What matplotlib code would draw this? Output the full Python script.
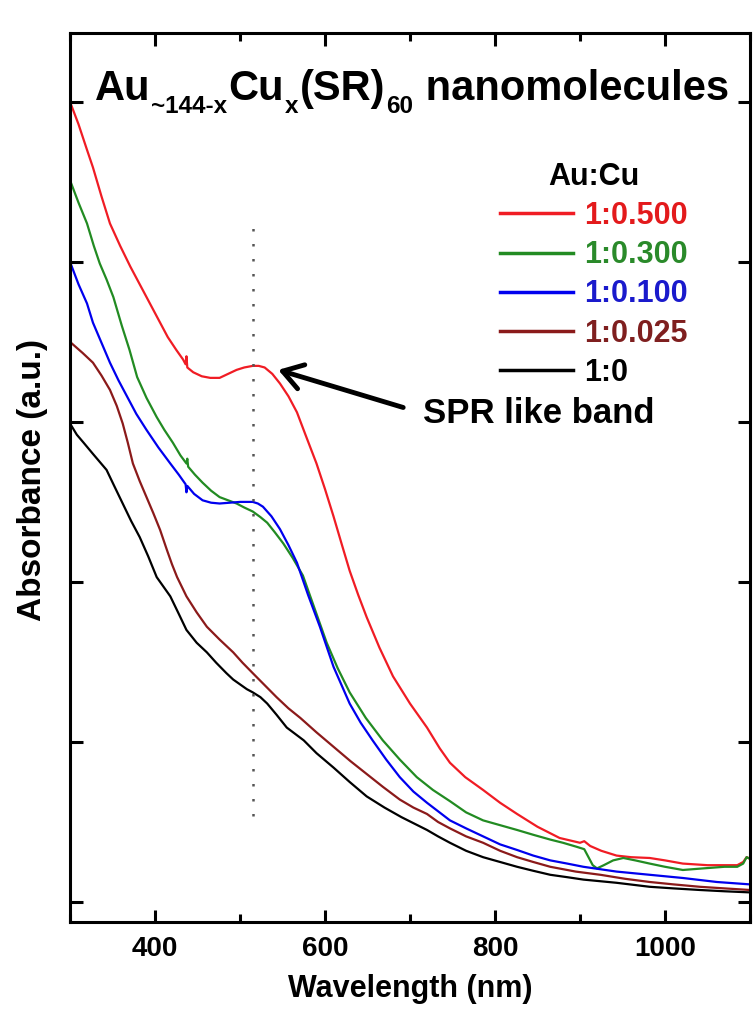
import matplotlib
matplotlib.use("Agg")
import matplotlib.pyplot as plt
from matplotlib.ticker import MultipleLocator, NullFormatter
from matplotlib.transforms import IdentityTransform

plt.rcParams['font.family'] = ['Liberation Sans', 'DejaVu Sans']
plt.rcParams['font.weight'] = 'bold'

# UV-vis spectra (absorbance in arbitrary units, one tick = 1)
wl_red = [300, 310, 320, 327, 337, 347, 359, 371, 383, 394, 405, 415, 425, 433, 436, 437, 438,
          445, 455, 465, 476, 486, 496, 505, 515, 522, 529, 538, 547, 557, 567, 577, 590, 600,
          610, 620, 629, 639, 649, 664, 680, 700, 720, 735, 747, 765, 786, 806, 826, 850, 876,
          892, 900, 905, 912, 925, 943, 960, 982, 1000, 1021, 1050, 1085, 1092, 1096, 1100]
ab_red = [5.00, 4.86, 4.70, 4.59, 4.41, 4.24, 4.10, 3.97, 3.85, 3.74, 3.63, 3.53, 3.45, 3.39,
          3.36, 3.41, 3.34, 3.31, 3.285, 3.275, 3.275, 3.30, 3.325, 3.34, 3.35, 3.35, 3.34, 3.30,
          3.24, 3.16, 3.06, 2.92, 2.74, 2.58, 2.41, 2.23, 2.07, 1.92, 1.78, 1.59, 1.41, 1.24,
          1.09, 0.96, 0.87, 0.78, 0.70, 0.62, 0.55, 0.47, 0.40, 0.38, 0.37, 0.38, 0.35, 0.32,
          0.29, 0.28, 0.275, 0.26, 0.24, 0.23, 0.23, 0.25, 0.28, 0.27]

wl_green = [300, 310, 320, 328, 335, 343, 351, 361, 370, 379, 390, 402, 411, 421, 430, 437, 438,
            439, 447, 456, 466, 476, 486, 496, 505, 515, 524, 532, 541, 551, 562, 574, 588, 602,
            615, 629, 648, 668, 688, 708, 727, 747, 766, 786, 806, 826, 845, 865, 880, 896, 905,
            910, 915, 920, 928, 939, 951, 965, 982, 1000, 1021, 1045, 1070, 1085, 1092, 1096, 1100]
ab_green = [4.51, 4.37, 4.24, 4.10, 3.99, 3.89, 3.78, 3.60, 3.45, 3.28, 3.15, 3.03, 2.95, 2.87,
            2.79, 2.74, 2.77, 2.72, 2.67, 2.62, 2.57, 2.53, 2.51, 2.49, 2.465, 2.44, 2.405, 2.37,
            2.31, 2.24, 2.15, 2.04, 1.83, 1.62, 1.46, 1.31, 1.15, 1.01, 0.89, 0.78, 0.70, 0.63,
            0.56, 0.51, 0.48, 0.45, 0.42, 0.39, 0.37, 0.345, 0.33, 0.28, 0.23, 0.21, 0.23, 0.26,
            0.275, 0.26, 0.24, 0.22, 0.20, 0.21, 0.22, 0.22, 0.24, 0.28, 0.27]

wl_blue = [300, 310, 320, 327, 335, 347, 357, 367, 378, 390, 404, 418, 428, 436, 437, 438, 446,
           456, 466, 476, 488, 500, 515, 521, 527, 537, 547, 557, 567, 580, 594, 610, 629, 642,
           656, 672, 688, 704, 720, 747, 766, 786, 806, 826, 845, 865, 885, 904, 943, 982, 1021,
           1061, 1100]
ab_blue = [4.00, 3.86, 3.74, 3.62, 3.52, 3.37, 3.26, 3.16, 3.05, 2.95, 2.84, 2.74, 2.67, 2.61,
           2.56, 2.60, 2.55, 2.51, 2.495, 2.49, 2.495, 2.50, 2.50, 2.49, 2.47, 2.41, 2.33, 2.23,
           2.12, 1.92, 1.72, 1.47, 1.24, 1.12, 1.01, 0.89, 0.78, 0.69, 0.62, 0.51, 0.46, 0.41,
           0.36, 0.325, 0.29, 0.26, 0.24, 0.22, 0.19, 0.17, 0.15, 0.125, 0.11]

wl_brown = [300, 315, 327, 337, 347, 355, 362, 368, 374, 382, 390, 398, 406, 414, 420, 426, 437,
            449, 461, 476, 492, 503, 515, 529, 543, 557, 571, 590, 610, 630, 649, 668, 688, 704,
            720, 733, 747, 766, 786, 806, 826, 845, 865, 895, 924, 953, 982, 1010, 1041, 1070, 1100]
ab_brown = [3.50, 3.43, 3.37, 3.29, 3.20, 3.10, 2.99, 2.87, 2.74, 2.63, 2.53, 2.43, 2.325, 2.20,
            2.11, 2.03, 1.91, 1.81, 1.72, 1.64, 1.56, 1.495, 1.43, 1.355, 1.28, 1.21, 1.15, 1.06,
            0.97, 0.88, 0.80, 0.72, 0.64, 0.59, 0.55, 0.50, 0.46, 0.41, 0.37, 0.32, 0.28, 0.25,
            0.22, 0.19, 0.17, 0.145, 0.125, 0.11, 0.095, 0.085, 0.075]

wl_black = [300, 308, 316, 327, 335, 343, 352, 362, 372, 382, 392, 402, 410, 418, 428, 437, 449,
            461, 472, 484, 492, 500, 508, 515, 524, 532, 543, 555, 565, 575, 590, 610, 629, 649,
            670, 690, 705, 720, 733, 747, 766, 786, 806, 826, 845, 865, 885, 904, 943, 982, 1010,
            1041, 1070, 1100]
ab_black = [2.99, 2.92, 2.87, 2.80, 2.75, 2.70, 2.60, 2.49, 2.38, 2.28, 2.16, 2.03, 1.97, 1.91,
            1.80, 1.70, 1.62, 1.56, 1.495, 1.43, 1.39, 1.36, 1.33, 1.31, 1.28, 1.24, 1.17, 1.09,
            1.05, 1.01, 0.93, 0.84, 0.75, 0.66, 0.59, 0.53, 0.49, 0.45, 0.41, 0.37, 0.32, 0.28,
            0.25, 0.22, 0.195, 0.17, 0.155, 0.14, 0.12, 0.095, 0.085, 0.075, 0.067, 0.06]

labels = ['1:0.500', '1:0.300', '1:0.100', '1:0.025', '1:0']
line_colors = ['#f01c24', '#228b22', '#0000ee', '#8b1a1a', '#000000']
text_colors = ['#e31a1c', '#2a8a2a', '#1a1acc', '#7f1f1f', '#000000']

# title pieces: (text, is_subscript)
title_parts = [('Au', False), ('~144-x', True), ('Cu', False), ('x', True),
               ('(SR)', False), ('60', True), (' nanomolecules', False)]

fig = plt.figure(figsize=(7.53, 10.16), dpi=100)
ax = fig.add_axes([70/753, 1-922/1016, 680/753, 889/1016])

series = [(wl_red, ab_red), (wl_green, ab_green), (wl_blue, ab_blue),
          (wl_brown, ab_brown), (wl_black, ab_black)]
for (wl, ab), lab, c in zip(series, labels, line_colors):
    ax.plot(wl, ab, color=c, lw=1.6, label=lab, solid_joinstyle='round')

# dotted marker of the SPR position
ax.plot([515, 515], [0.54, 4.25], color='#555555', lw=1.8, ls=(0, (1, 5)))

ax.set_xlim(300, 1100)
ax.set_ylim(-0.125, 5.43)
ax.xaxis.set_major_locator(MultipleLocator(200))
ax.xaxis.set_minor_locator(MultipleLocator(100))
ax.yaxis.set_major_locator(MultipleLocator(1))
ax.yaxis.set_major_formatter(NullFormatter())
ax.tick_params(which='both', direction='in', top=True, right=True, width=2.2)
ax.tick_params(which='major', length=9, labelsize=20, pad=10)
ax.tick_params(which='minor', length=6)
for s in ax.spines.values():
    s.set_linewidth(2.2)

ax.set_xlabel('Wavelength (nm)', fontsize=22, fontweight='bold')
ax.set_ylabel('Absorbance (a.u.)', fontsize=24, fontweight='bold')
ax.xaxis.set_label_coords(0.5, -0.058)
ax.yaxis.set_label_coords(-0.033, 0.497)

# title built piece by piece so the subscripts sit low like the original
renderer = fig.canvas.get_renderer()
x0 = 95
for txt, sub in title_parts:
    t = fig.text(x0, 1016 - (113 if sub else 100), txt, transform=IdentityTransform(),
                 fontsize=17.5 if sub else 30, fontweight='bold', ha='left', va='baseline')
    x0 += t.get_window_extent(renderer).width + 1

leg = ax.legend(title='Au:Cu', loc='upper left', bbox_to_anchor=(0.632, 0.855),
                frameon=False, fontsize=22, title_fontproperties={'size': 22, 'weight': 'bold'},
                handlelength=2.4, handletextpad=0.36, labelspacing=0.3,
                borderpad=0, borderaxespad=0)
for txt, c in zip(leg.get_texts(), text_colors):
    txt.set_color(c)
for h in leg.legend_handles:
    h.set_linewidth(2.5)

ax.annotate('', xy=(545, 3.325), xytext=(692, 3.09),
            arrowprops=dict(arrowstyle='->,head_length=0.7,head_width=0.45', lw=3.5,
                            color='black', mutation_scale=20, shrinkA=0, shrinkB=0))
ax.text(715, 3.05, 'SPR like band', fontsize=25, fontweight='bold', ha='left', va='center')

fig.savefig('out.png', dpi=100)
